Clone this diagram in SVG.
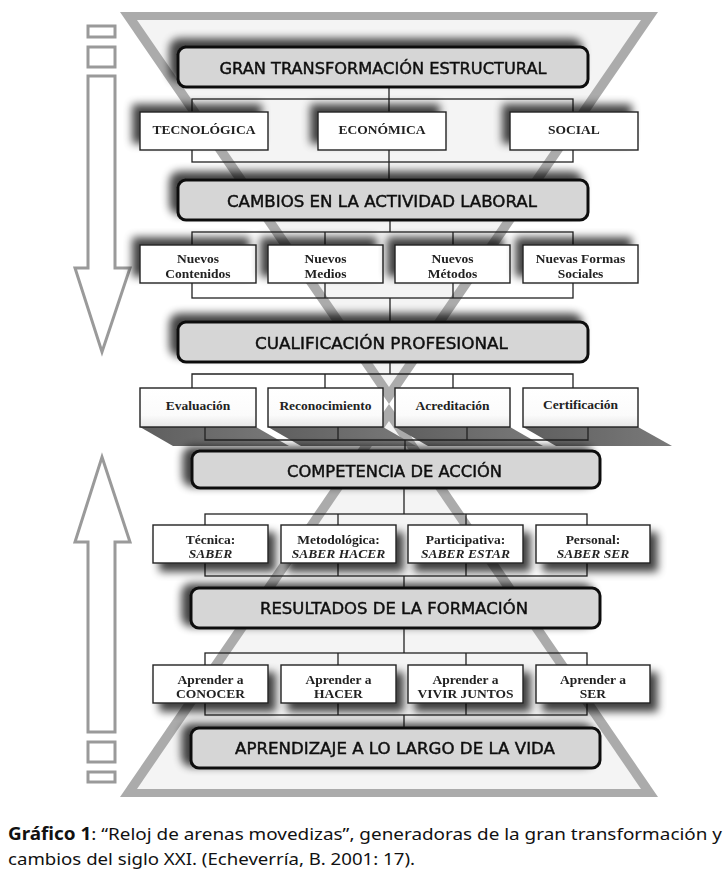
<svg xmlns="http://www.w3.org/2000/svg" width="728" height="880" viewBox="0 0 728 880">
<defs>
<filter id="shUL" x="-20%" y="-60%" width="140%" height="220%">
<feGaussianBlur in="SourceAlpha" stdDeviation="4"/>
<feOffset dx="-7" dy="-7" result="b"/>
<feComponentTransfer><feFuncA type="linear" slope="0.75"/></feComponentTransfer>
<feMerge><feMergeNode/><feMergeNode in="SourceGraphic"/></feMerge>
</filter>
<filter id="shL" x="-20%" y="-60%" width="140%" height="220%">
<feGaussianBlur in="SourceAlpha" stdDeviation="4"/>
<feOffset dx="-8" dy="-3" result="b"/>
<feComponentTransfer><feFuncA type="linear" slope="0.75"/></feComponentTransfer>
<feMerge><feMergeNode/><feMergeNode in="SourceGraphic"/></feMerge>
</filter>
<filter id="shDR" x="-20%" y="-60%" width="140%" height="220%">
<feGaussianBlur in="SourceAlpha" stdDeviation="4"/>
<feOffset dx="7" dy="8" result="b"/>
<feComponentTransfer><feFuncA type="linear" slope="0.75"/></feComponentTransfer>
<feMerge><feMergeNode/><feMergeNode in="SourceGraphic"/></feMerge>
</filter>
<linearGradient id="wg" x1="0" y1="0" x2="0" y2="1">
<stop offset="0" stop-color="#ffffff"/><stop offset="0.7" stop-color="#fbfbfb"/><stop offset="1" stop-color="#e6e6e6"/>
</linearGradient>
<linearGradient id="slab" x1="0" y1="0" x2="1" y2="0">
<stop offset="0" stop-color="#5e5e5e"/><stop offset="1" stop-color="#7a7a7a"/>
</linearGradient>
<style>
.main{fill:#d6d6d6;stroke:#111;stroke-width:3}
.sub{fill:#fff;stroke:#222;stroke-width:1.4}
.sub3{fill:url(#wg);stroke:#222;stroke-width:1.4}
.mt{font-family:"DejaVu Sans",sans-serif;font-size:16px;fill:#111;stroke:#111;stroke-width:0.45;text-anchor:middle}
.st{font-family:"Liberation Serif",serif;font-weight:bold;font-size:13.5px;fill:#222;text-anchor:middle}
.it{font-style:italic}
.con{fill:none;stroke:#222;stroke-width:1.3}
.arr{fill:#fff;stroke:#9a9a9a;stroke-width:3}
.slab{fill:url(#slab)}
.cap{font-family:"Noto Sans",sans-serif;font-size:17px;fill:#111}
</style>
</defs>
<rect width="728" height="880" fill="#fff"/>
<g id="hourglass">
<polygon points="120,12 658,12 389,404" fill="#ababab"/>
<polygon points="137,20 641,20 389,387" fill="#f4f4f4"/>
<polygon points="120,797 658,797 389,404" fill="#ababab"/>
<polygon points="137,789 641,789 389,421" fill="#f4f4f4"/>
</g>
<g id="arrow-down">
<rect class="arr" x="88" y="26" width="27" height="11"/>
<rect class="arr" x="88" y="47" width="27" height="20"/>
<path class="arr" d="M88,76 H115 V268 H130 L102,352 L75,268 H88 Z"/>
</g>
<g id="arrow-up">
<path class="arr" d="M102,457 L130,542 H115 V732 H88 V542 H75 Z"/>
<rect class="arr" x="88" y="742" width="27" height="20"/>
<rect class="arr" x="88" y="772" width="27" height="10"/>
</g>
<g id="slabs">
<polygon class="slab" points="140,427 256,427 289,446 173,446"/>
<polygon class="slab" points="268,427 383,427 416,446 301,446"/>
<polygon class="slab" points="395,427 510,427 543,446 428,446"/>
<polygon class="slab" points="523,427 638,427 672,446 556,446"/>
</g>
<g id="connectors">
<rect class="con" x="192" y="99" width="381" height="63"/>
<line class="con" x1="389" y1="87" x2="389" y2="180"/>
<rect class="con" x="192" y="232" width="381" height="66"/>
<line class="con" x1="325" y1="232" x2="325" y2="298"/>
<line class="con" x1="453" y1="232" x2="453" y2="298"/>
<line class="con" x1="390" y1="220" x2="390" y2="232"/>
<line class="con" x1="390" y1="298" x2="390" y2="322"/>
<path class="con" d="M390,362 V374 M192,388 V374 H573 V388 M325,374 V388 M453,374 V388"/>
<path class="con" d="M205,427 V440 H588 V427 M338,427 V440 M467,427 V440 M405,440 V451"/>
<rect class="con" x="205" y="514" width="382" height="62"/>
<line class="con" x1="338" y1="514" x2="338" y2="576"/>
<line class="con" x1="466" y1="514" x2="466" y2="576"/>
<line class="con" x1="404" y1="488" x2="404" y2="514"/>
<line class="con" x1="404" y1="576" x2="404" y2="588"/>
<rect class="con" x="205" y="653" width="382" height="62"/>
<line class="con" x1="338" y1="653" x2="338" y2="715"/>
<line class="con" x1="466" y1="653" x2="466" y2="715"/>
<line class="con" x1="404" y1="628" x2="404" y2="653"/>
<line class="con" x1="404" y1="715" x2="404" y2="728"/>
</g>
<g id="n-gran" filter="url(#shUL)">
<rect class="main" x="178" y="47" width="410" height="40" rx="8"/>
<text class="mt" x="383" y="74" textLength="327" lengthAdjust="spacingAndGlyphs">GRAN TRANSFORMACIÓN ESTRUCTURAL</text>
</g>
<g id="n-tecnologica" filter="url(#shUL)">
<rect class="sub" x="140" y="112" width="128" height="38"/>
<text class="st" x="204" y="134">TECNOLÓGICA</text>
</g>
<g id="n-economica" filter="url(#shUL)">
<rect class="sub" x="318" y="112" width="128" height="38"/>
<text class="st" x="382" y="134">ECONÓMICA</text>
</g>
<g id="n-social" filter="url(#shUL)">
<rect class="sub" x="510" y="112" width="128" height="38"/>
<text class="st" x="574" y="134">SOCIAL</text>
</g>
<g id="n-cambios" filter="url(#shUL)">
<rect class="main" x="178" y="180" width="410" height="40" rx="8"/>
<text class="mt" x="382" y="207" textLength="310" lengthAdjust="spacingAndGlyphs">CAMBIOS EN LA ACTIVIDAD LABORAL</text>
</g>
<g id="n-contenidos" filter="url(#shUL)">
<rect class="sub" x="140" y="245" width="116" height="38"/>
<text class="st" x="198" y="263">Nuevos</text>
<text class="st" x="198" y="278">Contenidos</text>
</g>
<g id="n-medios" filter="url(#shUL)">
<rect class="sub" x="268" y="245" width="115" height="38"/>
<text class="st" x="325.5" y="263">Nuevos</text>
<text class="st" x="325.5" y="278">Medios</text>
</g>
<g id="n-metodos" filter="url(#shUL)">
<rect class="sub" x="395" y="245" width="115" height="38"/>
<text class="st" x="452.5" y="263">Nuevos</text>
<text class="st" x="452.5" y="278">Métodos</text>
</g>
<g id="n-formas" filter="url(#shUL)">
<rect class="sub" x="523" y="245" width="115" height="38"/>
<text class="st" x="580.5" y="263">Nuevas Formas</text>
<text class="st" x="580.5" y="278">Sociales</text>
</g>
<g id="n-cualificacion" filter="url(#shUL)">
<rect class="main" x="178" y="322" width="410" height="40" rx="8"/>
<text class="mt" x="381.5" y="349" textLength="253" lengthAdjust="spacingAndGlyphs">CUALIFICACIÓN PROFESIONAL</text>
</g>
<g id="n-evaluacion">
<rect class="sub3" x="140" y="388" width="116" height="39"/>
<text class="st" x="198" y="410">Evaluación</text>
</g>
<g id="n-reconocimiento">
<rect class="sub3" x="268" y="388" width="115" height="39"/>
<text class="st" x="325.5" y="410">Reconocimiento</text>
</g>
<g id="n-acreditacion">
<rect class="sub3" x="395" y="388" width="115" height="39"/>
<text class="st" x="452.5" y="410">Acreditación</text>
</g>
<g id="n-certificacion">
<rect class="sub3" x="523" y="388" width="115" height="39"/>
<text class="st" x="580.5" y="409">Certificación</text>
</g>
<g id="n-competencia" filter="url(#shL)">
<rect class="main" x="192" y="451" width="408" height="37" rx="8"/>
<text class="mt" x="394.5" y="477" textLength="215" lengthAdjust="spacingAndGlyphs">COMPETENCIA DE ACCIÓN</text>
</g>
<g id="n-tecnica" filter="url(#shDR)">
<rect class="sub" x="153" y="525" width="115" height="38"/>
<text class="st" x="210.5" y="544">Técnica:</text>
<text class="st it" x="210.5" y="558">SABER</text>
</g>
<g id="n-metodologica" filter="url(#shDR)">
<rect class="sub" x="281" y="525" width="115" height="38"/>
<text class="st" x="338.5" y="544">Metodológica:</text>
<text class="st it" x="338.5" y="558">SABER HACER</text>
</g>
<g id="n-participativa" filter="url(#shDR)">
<rect class="sub" x="408" y="525" width="115" height="38"/>
<text class="st" x="465.5" y="544">Participativa:</text>
<text class="st it" x="465.5" y="558">SABER ESTAR</text>
</g>
<g id="n-personal" filter="url(#shDR)">
<rect class="sub" x="536" y="525" width="114" height="38"/>
<text class="st" x="593" y="544">Personal:</text>
<text class="st it" x="593" y="558">SABER SER</text>
</g>
<g id="n-resultados" filter="url(#shL)">
<rect class="main" x="191" y="588" width="409" height="40" rx="8"/>
<text class="mt" x="394" y="614" textLength="268" lengthAdjust="spacingAndGlyphs">RESULTADOS DE LA FORMACIÓN</text>
</g>
<g id="n-conocer" filter="url(#shDR)">
<rect class="sub" x="153" y="665" width="115" height="38"/>
<text class="st" x="210.5" y="684">Aprender a</text>
<text class="st" x="210.5" y="698">CONOCER</text>
</g>
<g id="n-hacer" filter="url(#shDR)">
<rect class="sub" x="281" y="665" width="115" height="38"/>
<text class="st" x="338.5" y="684">Aprender a</text>
<text class="st" x="338.5" y="698">HACER</text>
</g>
<g id="n-vivir" filter="url(#shDR)">
<rect class="sub" x="408" y="665" width="115" height="38"/>
<text class="st" x="465.5" y="684">Aprender a</text>
<text class="st" x="465.5" y="698">VIVIR JUNTOS</text>
</g>
<g id="n-ser" filter="url(#shDR)">
<rect class="sub" x="536" y="665" width="114" height="38"/>
<text class="st" x="593" y="684">Aprender a</text>
<text class="st" x="593" y="698">SER</text>
</g>
<g id="n-aprendizaje" filter="url(#shL)">
<rect class="main" x="191" y="728" width="409" height="40" rx="8"/>
<text class="mt" x="395" y="754" textLength="320" lengthAdjust="spacingAndGlyphs">APRENDIZAJE A LO LARGO DE LA VIDA</text>
</g>
<g id="caption">
<text class="cap" x="8" y="840" textLength="714" lengthAdjust="spacingAndGlyphs"><tspan font-weight="bold">Gráfico 1</tspan>: “Reloj de arenas movedizas”, generadoras de la gran transformación y</text>
<text class="cap" x="8" y="865" textLength="407" lengthAdjust="spacingAndGlyphs">cambios del siglo XXI. (Echeverría, B. 2001: 17).</text>
</g>
</svg>
